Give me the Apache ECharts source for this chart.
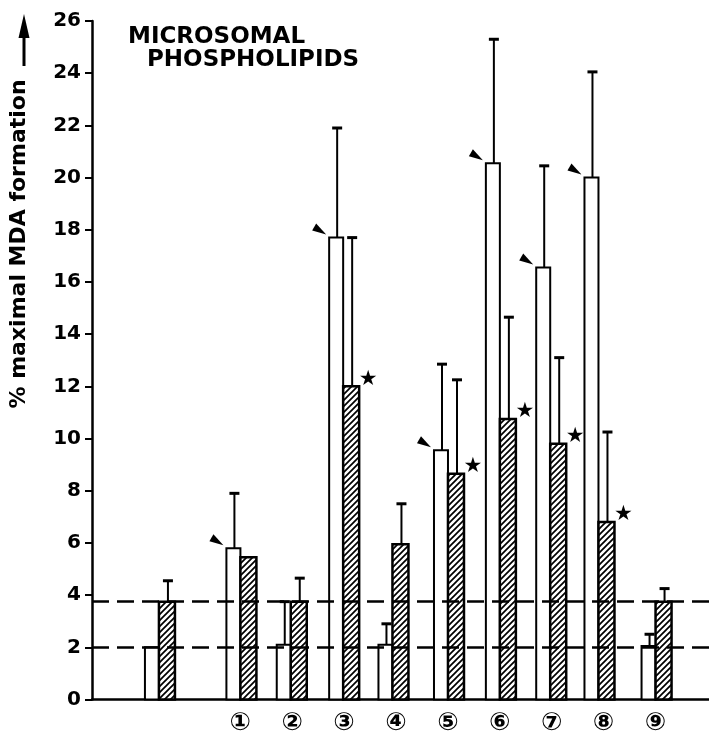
<!DOCTYPE html>
<html>
<head>
    <meta charset="utf-8">
    <title>Microsomal phospholipids</title>
    <script src="https://cdn.jsdelivr.net/npm/echarts@6/dist/echarts.min.js"></script>
</head>
<body style="margin:0">
    <div id="div_mda" style="width: 709px; height:738px;"></div>

    <script type="text/javascript">
        // groups: control (unlabelled) then 1..9
        var groupLabels = ['', '①', '②', '③', '④', '⑤', '⑥', '⑦', '⑧', '⑨'];
        var groupPos = [-0.57, 1, 1.97, 2.98, 3.93, 5, 6, 6.97, 7.9, 9];
        // open bars
        var openMean = [2.0, 5.8, 2.1, 17.7, 2.1, 9.55, 20.55, 16.55, 20.0, 2.05];
        var openSD = [0, 2.1, 1.65, 4.2, 0.8, 3.3, 4.75, 3.9, 4.05, 0.45];
        // hatched bars
        var hatchMean = [3.75, 5.45, 3.75, 12.0, 5.95, 8.65, 10.75, 9.8, 6.8, 3.75];
        var hatchSD = [0.8, 0, 0.9, 5.7, 1.55, 3.6, 3.9, 3.3, 3.45, 0.5];
        // arrowhead on open bar, star on hatched bar
        var arrowMark = [0, 1, 0, 1, 0, 1, 1, 1, 1, 0];
        var starMark = [0, 0, 0, 1, 0, 1, 1, 1, 1, 0];
        // control levels (dashed)
        var refLevels = [2.0, 3.75];
        var yTicks = [0, 2, 4, 6, 8, 10, 12, 14, 16, 18, 20, 22, 24, 26];

        var tableData = groupPos.map(function (p, i) {
            return [p, openMean[i], openSD[i], hatchMean[i], hatchSD[i], arrowMark[i], starMark[i]];
        });

        // diagonal hatch
        var hatch = document.createElement('canvas');
        hatch.width = 6; hatch.height = 6;
        var ctx = hatch.getContext('2d');
        ctx.fillStyle = '#fff';
        ctx.fillRect(0, 0, 6, 6);
        ctx.strokeStyle = '#000';
        ctx.lineWidth = 1.7;
        ctx.beginPath();
        ctx.moveTo(-1, 7); ctx.lineTo(7, -1);
        ctx.moveTo(-4, 4); ctx.lineTo(4, -4);
        ctx.moveTo(2, 10); ctx.lineTo(10, 2);
        ctx.stroke();

        var OPEN_W = 14, HATCH_W = 16;

        function errBar(x, yTop, yEnd) {
            return [
                { type: 'line', shape: { x1: x, y1: yTop, x2: x, y2: yEnd }, style: { stroke: '#000', lineWidth: 2 } },
                { type: 'line', shape: { x1: x - 5, y1: yEnd, x2: x + 5, y2: yEnd }, style: { stroke: '#000', lineWidth: 3 } }
            ];
        }

        function renderItem(params, api) {
            var p = api.value(0);
            var base = api.coord([p, 0]);
            var cx = base[0], y0 = base[1];
            var oTop = api.coord([p, api.value(1)])[1];
            var hTop = api.coord([p, api.value(3)])[1];
            var kids = [];
            kids.push({ type: 'rect', shape: { x: cx - OPEN_W, y: oTop, width: OPEN_W, height: y0 - oTop },
                style: { fill: '#fff', stroke: '#000', lineWidth: 2 } });
            kids.push({ type: 'rect', shape: { x: cx, y: hTop, width: HATCH_W, height: y0 - hTop },
                style: { fill: { image: hatch, repeat: 'repeat' }, stroke: '#000', lineWidth: 2.5 } });
            if (api.value(2) > 0) {
                var oEnd = api.coord([p, api.value(1) + api.value(2)])[1];
                kids = kids.concat(errBar(cx - OPEN_W / 2 + 1, oTop, oEnd));
            }
            if (api.value(4) > 0) {
                var hEnd = api.coord([p, api.value(3) + api.value(4)])[1];
                kids = kids.concat(errBar(cx + HATCH_W / 2 + 1, hTop, hEnd));
            }
            if (api.value(5)) {
                var tx = cx - OPEN_W - 3, ty = oTop - 3;
                kids.push({ type: 'polygon', shape: { points: [
                    [tx, ty], [tx - 10, ty - 11], [tx - 14, ty - 4]
                ] }, style: { fill: '#000' } });
            }
            if (api.value(6)) {
                kids.push({ type: 'text', style: {
                    text: '★', x: cx + HATCH_W + 9, y: hTop - 7,
                    font: '21px "DejaVu Sans"', fill: '#000', align: 'center', verticalAlign: 'middle'
                } });
            }
            return { type: 'group', children: kids };
        }

        var chart = echarts.init(document.getElementById('div_mda'));
        chart.setOption({
            animation: false,
            backgroundColor: '#fff',
            grid: { left: 92, right: 0, top: 21, bottom: 38.5 },
            xAxis: {
                type: 'value',
                min: -1.86,
                max: 10.03,
                splitLine: { show: false },
                axisTick: { show: false },
                axisLine: { show: true, onZero: false, lineStyle: { color: '#000', width: 2.5 } },
                axisLabel: {
                    customValues: [1, 2, 3, 4, 5, 6, 7, 8, 9],
                    margin: 11,
                    color: '#000',
                    fontFamily: 'DejaVu Sans',
                    fontWeight: 'bold',
                    fontSize: 25,
                    formatter: function (v) { return groupLabels[v] || ''; }
                }
            },
            yAxis: {
                type: 'value',
                min: 0,
                max: 26,
                interval: 2,
                splitLine: { show: false },
                axisLine: { show: true, onZero: false, lineStyle: { color: '#000', width: 2.5 } },
                axisTick: { show: true, length: 7, lineStyle: { color: '#000', width: 2 } },
                axisLabel: {
                    margin: 11,
                    color: '#000',
                    fontFamily: 'DejaVu Sans',
                    fontWeight: 'bold',
                    fontSize: 20,
                    formatter: function (v) { return yTicks.indexOf(v) >= 0 ? String(v) : ''; }
                }
            },
            graphic: [
                { type: 'text', left: 128, top: 26, style: { text: 'MICROSOMAL', font: 'bold 23px "DejaVu Sans"', fill: '#000' } },
                { type: 'text', left: 147, top: 49, style: { text: 'PHOSPHOLIPIDS', font: 'bold 23px "DejaVu Sans"', fill: '#000' } },
                { type: 'text', x: 19, y: 244, rotation: Math.PI / 2,
                  style: { text: '% maximal MDA formation', font: 'bold 22px "DejaVu Sans"', fill: '#000', align: 'center', verticalAlign: 'middle' } },
                { type: 'line', shape: { x1: 24, y1: 66, x2: 24, y2: 34 }, style: { stroke: '#000', lineWidth: 3 } },
                { type: 'polygon', shape: { points: [[24, 14], [18.5, 38], [29.5, 38]] }, style: { fill: '#000' } }
            ],
            series: [{
                type: 'custom',
                renderItem: renderItem,
                data: tableData,
                clip: false,
                markLine: {
                    silent: true,
                    symbol: 'none',
                    label: { show: false },
                    lineStyle: { color: '#000', width: 2.5, type: [17, 8] },
                    data: refLevels.map(function (v) { return { yAxis: v }; })
                }
            }]
        });
    </script>
</body>
</html>
